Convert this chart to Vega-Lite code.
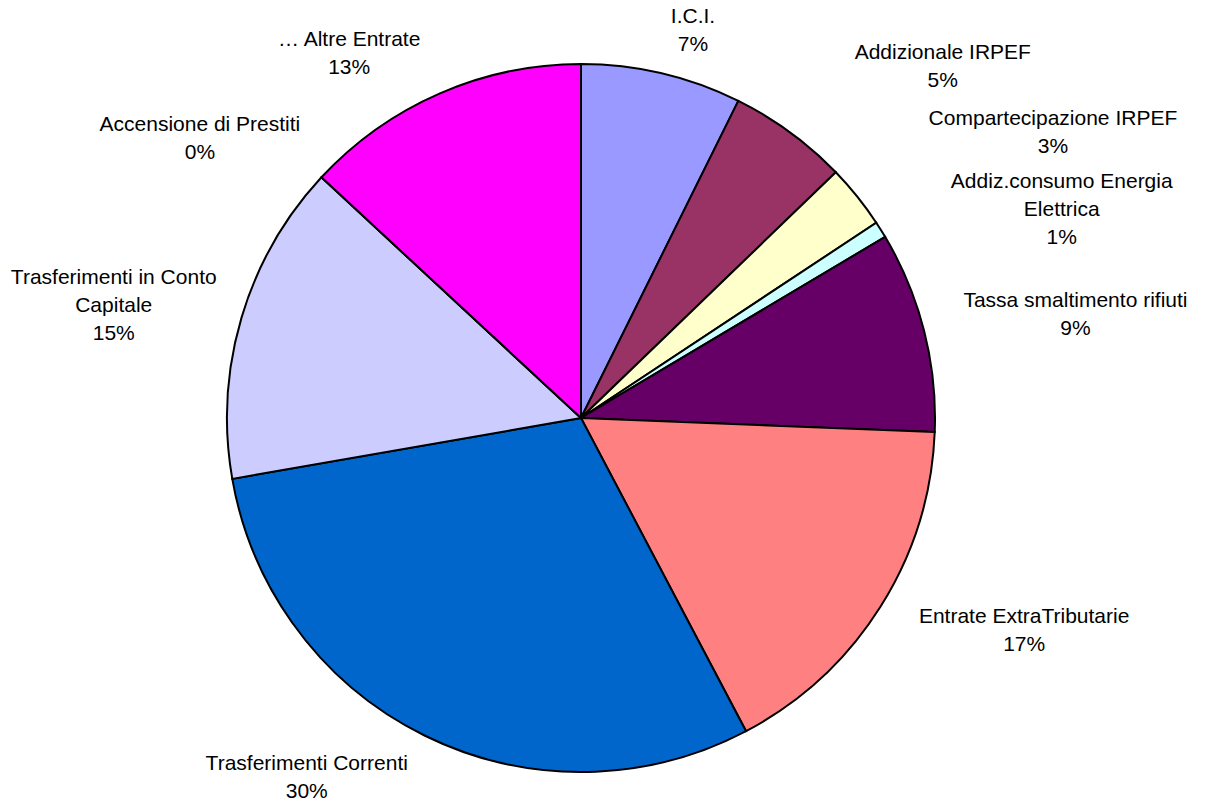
{
  "$schema": "https://vega.github.io/schema/vega-lite/v6.json",
  "width": 1162,
  "height": 772,
  "autosize": {"type": "none"},
  "padding": {"left": 0, "top": 32, "right": 45, "bottom": 0},
  "background": "white",
  "config": {
    "view": {"stroke": null},
    "text": {"font": "Liberation Sans", "fontSize": 21, "lineHeight": 28, "lineBreak": "\n", "align": "center", "baseline": "middle", "fill": "black"}
  },
  "data": {
    "values": [
      {"voce": "I.C.I.", "etichetta": "I.C.I.\n7%", "quota": 7.33, "ordine": 1},
      {"voce": "Addizionale IRPEF", "etichetta": "Addizionale IRPEF\n5%", "quota": 5.46, "ordine": 2},
      {"voce": "Compartecipazione IRPEF", "etichetta": "Compartecipazione IRPEF\n3%", "quota": 2.91, "ordine": 3},
      {"voce": "Addiz.consumo Energia Elettrica", "etichetta": "Addiz.consumo Energia\nElettrica\n1%", "quota": 0.75, "ordine": 4},
      {"voce": "Tassa smaltimento rifiuti", "etichetta": "Tassa smaltimento rifiuti\n9%", "quota": 9.18, "ordine": 5},
      {"voce": "Entrate ExtraTributarie", "etichetta": "Entrate ExtraTributarie\n17%", "quota": 16.65, "ordine": 6},
      {"voce": "Trasferimenti Correnti", "etichetta": "Trasferimenti Correnti\n30%", "quota": 29.97, "ordine": 7},
      {"voce": "Trasferimenti in Conto Capitale", "etichetta": "Trasferimenti in Conto\nCapitale\n15%", "quota": 14.65, "ordine": 8},
      {"voce": "Accensione di Prestiti", "etichetta": "Accensione di Prestiti\n0%", "quota": 0, "ordine": 9},
      {"voce": "… Altre Entrate", "etichetta": "… Altre Entrate\n13%", "quota": 13.1, "ordine": 10}
    ]
  },
  "encoding": {
    "theta": {"field": "quota", "type": "quantitative", "stack": true},
    "order": {"field": "ordine", "type": "quantitative"},
    "color": {
      "field": "voce",
      "type": "nominal",
      "legend": null,
      "scale": {
        "domain": ["I.C.I.", "Addizionale IRPEF", "Compartecipazione IRPEF", "Addiz.consumo Energia Elettrica", "Tassa smaltimento rifiuti", "Entrate ExtraTributarie", "Trasferimenti Correnti", "Trasferimenti in Conto Capitale", "Accensione di Prestiti", "… Altre Entrate"],
        "range": ["#9999FF", "#993366", "#FFFFCC", "#CCFFFF", "#660066", "#FF8080", "#0066CC", "#CCCCFF", "#FFFFFF", "#FF00FF"]
      }
    }
  },
  "layer": [
    {"mark": {"type": "arc", "outerRadius": 354, "stroke": "black", "strokeWidth": 2}},
    {"mark": {"type": "text", "radius": 403, "dx": 20, "dy": -9}, "encoding": {"color": {"value": "black"}, "text": {"condition": {"test": "datum.voce === 'I.C.I.'", "field": "etichetta", "type": "nominal"}, "value": ""}}},
    {"mark": {"type": "text", "radius": 504, "dx": 64, "dy": 42}, "encoding": {"color": {"value": "black"}, "text": {"condition": {"test": "datum.voce === 'Addizionale IRPEF'", "field": "etichetta", "type": "nominal"}, "value": ""}}},
    {"mark": {"type": "text", "radius": 551, "dx": 42, "dy": 46}, "encoding": {"color": {"value": "black"}, "text": {"condition": {"test": "datum.voce === 'Compartecipazione IRPEF'", "field": "etichetta", "type": "nominal"}, "value": ""}}},
    {"mark": {"type": "text", "radius": 524, "dx": 37, "dy": 43}, "encoding": {"color": {"value": "black"}, "text": {"condition": {"test": "datum.voce === 'Addiz.consumo Energia Elettrica'", "field": "etichetta", "type": "nominal"}, "value": ""}}},
    {"mark": {"type": "text", "radius": 505, "dx": 5, "dy": 7}, "encoding": {"color": {"value": "black"}, "text": {"condition": {"test": "datum.voce === 'Tassa smaltimento rifiuti'", "field": "etichetta", "type": "nominal"}, "value": ""}}},
    {"mark": {"type": "text", "radius": 492, "dx": 27, "dy": -63}, "encoding": {"color": {"value": "black"}, "text": {"condition": {"test": "datum.voce === 'Entrate ExtraTributarie'", "field": "etichetta", "type": "nominal"}, "value": ""}}},
    {"mark": {"type": "text", "radius": 452, "dx": -75, "dy": -60}, "encoding": {"color": {"value": "black"}, "text": {"condition": {"test": "datum.voce === 'Trasferimenti Correnti'", "field": "etichetta", "type": "nominal"}, "value": ""}}},
    {"mark": {"type": "text", "radius": 481, "dx": -6, "dy": -4}, "encoding": {"color": {"value": "black"}, "text": {"condition": {"test": "datum.voce === 'Trasferimenti in Conto Capitale'", "field": "etichetta", "type": "nominal"}, "value": ""}}},
    {"mark": {"type": "text", "radius": 472, "dx": -35, "dy": 28}, "encoding": {"color": {"value": "black"}, "text": {"condition": {"test": "datum.voce === 'Accensione di Prestiti'", "field": "etichetta", "type": "nominal"}, "value": ""}}},
    {"mark": {"type": "text", "radius": 432, "dx": -59, "dy": 18}, "encoding": {"color": {"value": "black"}, "text": {"condition": {"test": "datum.voce === '… Altre Entrate'", "field": "etichetta", "type": "nominal"}, "value": ""}}}
  ]
}
